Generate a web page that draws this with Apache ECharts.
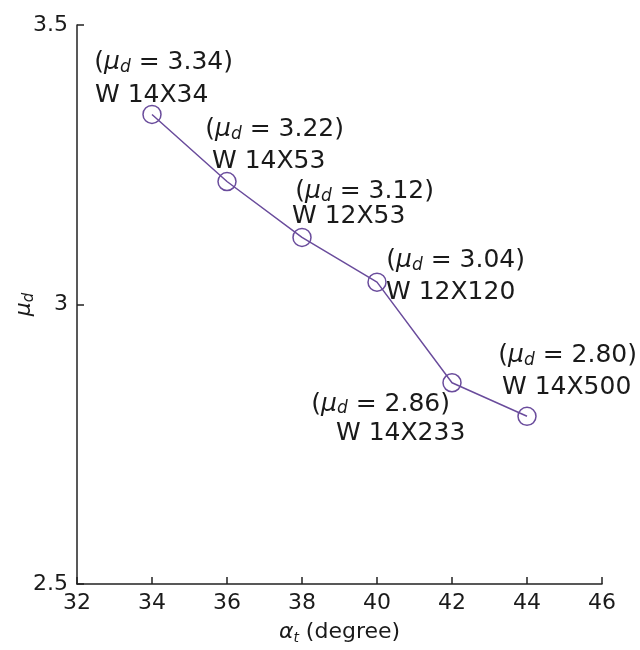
<!DOCTYPE html>
<html><head><meta charset="utf-8">
<script src="https://cdn.jsdelivr.net/npm/echarts@6/dist/echarts.min.js"></script>
<style>html,body{margin:0;padding:0;background:#fff}#c{width:640px;height:650px}</style>
</head><body><div id="c"></div>
<script>
const alphaT = [34, 36, 38, 40, 42, 44];
const muD = [3.34, 3.22, 3.12, 3.04, 2.86, 2.80];
const muText = ['3.34', '3.22', '3.12', '3.04', '2.86', '2.80'];
const sections = ['W 14X34', 'W 14X53', 'W 12X53', 'W 12X120', 'W 14X233', 'W 14X500'];
const xTicks = [32, 34, 36, 38, 40, 42, 44, 46];
const yTicks = [2.5, 3, 3.5];

// label layout (pixel offsets from each marker), not data
const line1Pos = [[-48, -42], [-12, -42], [3, -36], [19, -12], [-131, 31], [-19, -51]];
const line2Pos = [[-48, -10], [-6, -11], [-1, -12], [18, 19], [-107, 60], [-16, -20]];

const font = 'DejaVu Sans, sans-serif';
const ink = '#1a1a1a';
const purple = '#6a4c9c';

const line1Data = alphaT.map((x, i) => ({
  value: [x, muD[i]],
  label: {show: true, position: line1Pos[i], align: 'left', verticalAlign: 'middle',
    formatter: '{t|(}{mu|μ}{sub|d}{t| = ' + muText[i] + ')}'}
}));
const line2Data = alphaT.map((x, i) => ({
  value: [x, muD[i]],
  label: {show: true, position: line2Pos[i], align: 'left', verticalAlign: 'middle',
    formatter: sections[i]}
}));

const chart = echarts.init(document.getElementById('c'), null, {renderer: 'canvas'});
chart.setOption({
  animation: false,
  grid: {left: 77, right: 38, top: 25, bottom: 66, containLabel: false, outerBoundsMode: 'none'},
  xAxis: {
    type: 'value', min: 32, max: 46, interval: 2,
    name: '{a|α}{s|t}{n| (degree)}', nameLocation: 'middle', nameGap: 35, nameMoveOverlap: false,
    nameTextStyle: {rich: {
      a: {fontFamily: font, fontStyle: 'italic', fontSize: 22, color: ink},
      s: {fontFamily: font, fontStyle: 'italic', fontSize: 14, color: ink, padding: [12, 0, 0, 0]},
      n: {fontFamily: font, fontSize: 22, color: ink}
    }},
    axisLine: {lineStyle: {color: '#222', width: 1.5}},
    axisTick: {inside: true, length: 7, lineStyle: {color: '#222', width: 1.5}},
    axisLabel: {fontFamily: font, fontSize: 22, color: ink, margin: 8,
      formatter: v => xTicks.includes(v) ? String(v) : ''},
    splitLine: {show: false}
  },
  yAxis: {
    type: 'value', min: 2.5, max: 3.5, interval: 0.5,
    name: '{mu|μ}{sub|d}', nameLocation: 'middle', nameGap: 40, nameRotate: 90, nameMoveOverlap: false,
    nameTextStyle: {rich: {
      mu: {fontFamily: font, fontStyle: 'italic', fontSize: 22, color: ink},
      sub: {fontFamily: font, fontStyle: 'italic', fontSize: 15, color: ink, padding: [10, 0, 0, 0]}
    }},
    axisLine: {show: true, lineStyle: {color: '#222', width: 1.5}},
    axisTick: {show: true, inside: true, length: 7, lineStyle: {color: '#222', width: 1.5}},
    axisLabel: {fontFamily: font, fontSize: 22, color: ink, margin: 9,
      formatter: v => yTicks.includes(v) ? String(v) : ''},
    splitLine: {show: false}
  },
  series: [{
    type: 'line',
    data: line1Data,
    symbol: 'circle', symbolSize: 18,
    lineStyle: {color: purple, width: 1.5},
    itemStyle: {color: 'rgba(0,0,0,0)', borderColor: purple, borderWidth: 1.5},
    label: {
      color: ink,
      rich: {
        t: {fontFamily: font, fontSize: 25, color: ink},
        mu: {fontFamily: font, fontStyle: 'italic', fontSize: 25, color: ink},
        sub: {fontFamily: font, fontStyle: 'italic', fontSize: 17, color: ink, padding: [10, 0, 0, 0]}
      }
    },
    z: 3
  }, {
    type: 'scatter',
    data: line2Data,
    symbol: 'circle', symbolSize: 18,
    itemStyle: {color: 'rgba(0,0,0,0)', borderWidth: 0, opacity: 1},
    label: {fontFamily: font, fontSize: 25, color: ink, opacity: 1},
    silent: true,
    z: 2
  }]
});
</script></body></html>
